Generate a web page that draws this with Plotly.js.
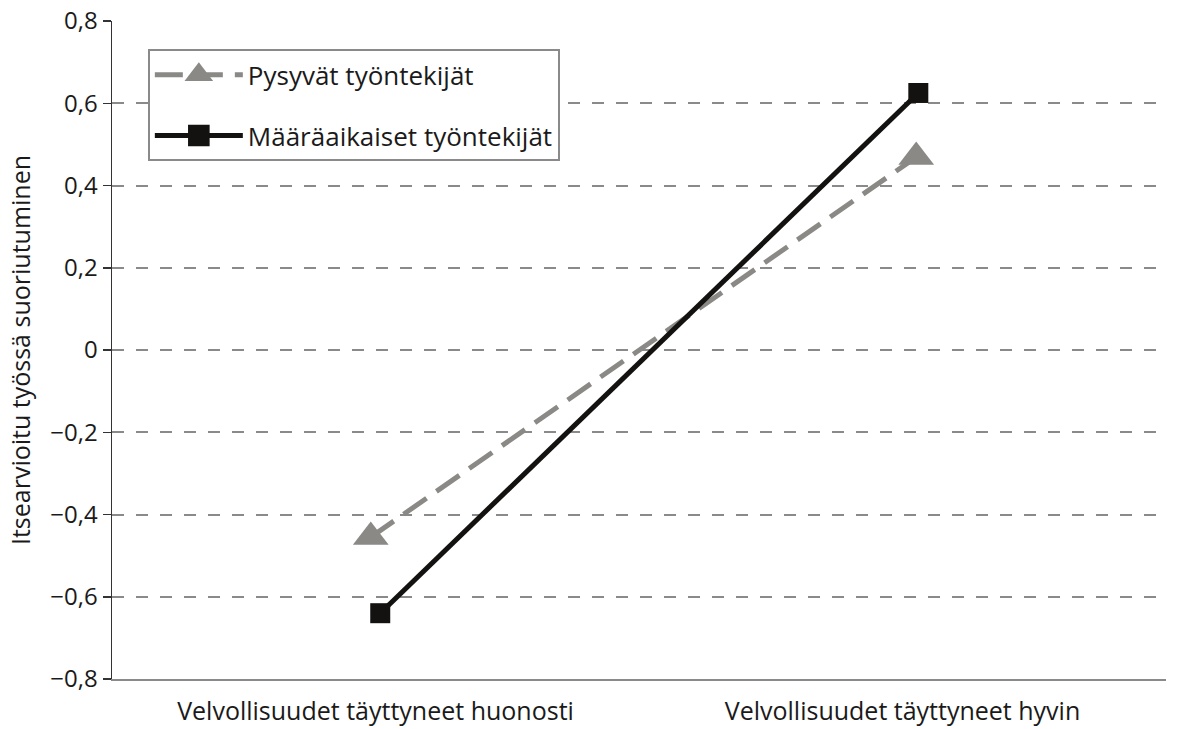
<!DOCTYPE html>
<html>
<head>
<meta charset="utf-8">
<script src="https://cdn.plot.ly/plotly-3.0.1.min.js"></script>
<style>html,body{margin:0;padding:0;background:#fff;}#chart{width:1184px;height:729px;}</style>
</head>
<body>
<div id="chart"></div>
<script>
// Data
const categories = ["Velvollisuudet täyttyneet huonosti", "Velvollisuudet täyttyneet hyvin"];
const categoryPos = [0, 1];
const seriesNames = ["Pysyvät työntekijät", "Määräaikaiset työntekijät"];
const pysyvatX = [-0.009, 1.026];
const pysyvatY = [-0.455, 0.469];
const maaraaikaisetX = [0.009, 1.03];
const maaraaikaisetY = [-0.64, 0.625];
const yTickVals = [-0.8, -0.6, -0.4, -0.2, 0, 0.2, 0.4, 0.6, 0.8];
const yTickLabels = ["−0,8", "−0,6", "−0,4", "−0,2", "0", "0,2", "0,4", "0,6", "0,8"];
const yTitle = "Itsearvioitu työssä suoriutuminen";

const FONT = "Open Sans, Noto Sans, sans-serif";

const traces = [
  {
    x: pysyvatX, y: pysyvatY, name: seriesNames[0], type: "scatter", mode: "lines+markers",
    legendgroup: "a",
    line: {color: "#8b8986", width: 5, dash: "28px,12px"},
    marker: {symbol: "triangle-up", size: 31, color: "#8b8986"}
  },
  {
    x: maaraaikaisetX, y: maaraaikaisetY, name: seriesNames[1], type: "scatter", mode: "lines+markers",
    legendgroup: "b",
    line: {color: "#141210", width: 5},
    marker: {symbol: "square", size: 20, color: "#141210"}
  }
];

const layout = {
  width: 1184, height: 729,
  margin: {l: 112, r: 18, t: 21, b: 50},
  paper_bgcolor: "#fff", plot_bgcolor: "#fff",
  font: {family: FONT, size: 25, color: "#1a1a1a"},
  separators: ", ",
  showlegend: true,
  legend: {
    x: 0.034, y: 0.957, xanchor: "left", yanchor: "top",
    bgcolor: "#fff", bordercolor: "#8a8a8a", borderwidth: 2,
    font: {family: FONT, size: 26, color: "#1a1a1a"},
    itemwidth: 88, traceorder: "grouped", tracegroupgap: 24
  },
  xaxis: {
    range: [-0.5, 1.5], tickvals: categoryPos, ticktext: categories,
    showgrid: false, zeroline: false, showline: true, linecolor: "#8a8a8a", linewidth: 2,
    ticks: "", ticklabelstandoff: 9, fixedrange: true,
    tickfont: {family: FONT, size: 25, color: "#1a1a1a"}
  },
  yaxis: {
    range: [-0.8, 0.8], tickvals: yTickVals, ticktext: yTickLabels,
    showgrid: true, gridcolor: "#8a8a8a", gridwidth: 2, griddash: "12px,12px",
    zeroline: false, showline: true, linecolor: "#333", linewidth: 1.5,
    ticks: "outside", ticklen: 8, tickcolor: "#333", tickwidth: 1.5,
    tickfont: {family: FONT, size: 24, color: "#1a1a1a"},
    title: {text: yTitle, font: {family: FONT, size: 25, color: "#1a1a1a"}, standoff: 12}
  }
};

Plotly.newPlot("chart", traces, layout, {displayModeBar: false, staticPlot: true}).then(function (gd) {
  // enlarge legend marker symbols (Plotly caps legend marker size)
  const pts = gd.querySelectorAll(".legend .legendpoints path.scatterpts");
  const scales = [1.55, 1.35];
  pts.forEach(function (p, i) {
    const t = p.getAttribute("transform") || "";
    p.setAttribute("transform", t + " scale(" + (scales[i] || 1.4) + ")");
  });
});
</script>
</body>
</html>
